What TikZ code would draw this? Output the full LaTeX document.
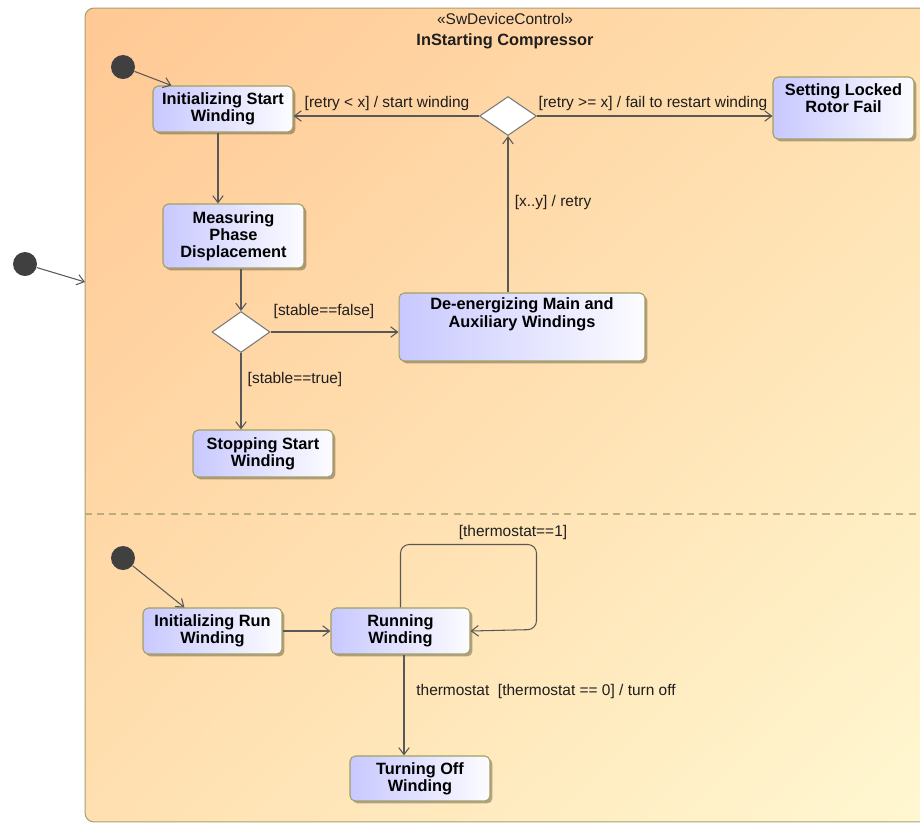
\documentclass[tikz,border=0pt]{standalone}
\usepackage{fontspec}
\setmainfont{Liberation Sans}
\usepackage{tikz}
\usetikzlibrary{arrows.meta, shapes.geometric, shadows, shadings}
\definecolor{peach}{RGB}{255, 200, 148}
\definecolor{peachlight}{RGB}{255, 224, 176}
\definecolor{cream}{RGB}{255, 248, 210}
\definecolor{compline}{RGB}{168, 160, 110}
\definecolor{dashline}{RGB}{185, 172, 125}
\definecolor{stateleft}{RGB}{200, 200, 255}
\definecolor{stateright}{RGB}{252, 252, 255}
\definecolor{stateline}{RGB}{160, 160, 100}
\definecolor{transline}{RGB}{88, 88, 88}
\definecolor{initfill}{RGB}{64, 64, 64}
\definecolor{guardtext}{RGB}{30, 30, 30}
\newcommand{\statefont}{\fontsize{9.3}{9.8}\selectfont\bfseries}
\newcommand{\guardfont}{\fontsize{8.8}{10}\selectfont}

\begin{document}
\begin{tikzpicture}[x=0.02cm, y=-0.02cm,
  state/.style={draw=stateline, line width=0.6pt, rounded corners=3pt,
    left color=stateleft, right color=stateright, align=center,
    font=\statefont, inner sep=0pt,
    drop shadow={shadow xshift=1.4pt, shadow yshift=-1.4pt, opacity=0.3, fill=black}},
  statetext/.style={font=\statefont, align=center, inner sep=0pt, anchor=north, yshift=-3pt},
  choice/.style={diamond, draw=transline!80, fill=white, inner sep=0pt, line width=0.6pt},
  initial/.style={circle, fill=initfill, inner sep=0pt, minimum size=0.48cm},
  trans/.style={draw=transline, line width=0.6pt, -{Straight Barb[length=4pt, width=6pt]}},
  guard/.style={font=\guardfont, text=guardtext, inner sep=0pt}]
  \useasboundingbox (0, 0) rectangle (920, 823);

  % composite state
  \begin{scope}
    \clip (0, 0) rectangle (920, 823);
    \node[draw=compline, line width=0.6pt, rounded corners=5pt,
          upper left=peach, upper right=peachlight, lower left=peachlight, lower right=cream,
          minimum width=17.1cm, minimum height=16.28cm, inner sep=0pt] (compressor) at (512.5, 415) {};
    \draw[dashline, line width=0.6pt, dash pattern=on 4pt off 3pt] (compressor.west |- 0,514) -- (920, 514);
  \end{scope}
  \node[guard] (stereo) at (505, 19) {«SwDeviceControl»};
  \node[guard, font=\statefont] (title) at (505, 41) {InStarting Compressor};

  % pseudo states
  \foreach \n/\x/\y in {init0/25/264, init1/123/67, init2/123/558} {
    \node[initial] (\n) at (\x, \y) {};
  }

  % region 1
  \node[state, minimum width=2.8cm, minimum height=0.92cm] (initstart) at (223, 109) {Initializing Start\\Winding};
  \node[state, minimum width=2.82cm, minimum height=1.28cm] (measuring) at (233.5, 236) {Measuring\\Phase\\Displacement};
  \node[state, minimum width=2.8cm, minimum height=0.94cm] (stopping) at (263, 453.5) {Stopping Start\\Winding};
  \node[state, minimum width=4.92cm, minimum height=1.36cm,
        label={[statetext]north:{De-energizing Main and\\Auxiliary Windings}}] (deenergize) at (522, 327) {};
  \node[state, minimum width=2.82cm, minimum height=1.24cm,
        label={[statetext, yshift=-1pt]north:{Setting Locked\\Rotor Fail}}] (lockedfail) at (843.5, 108) {};
  \node[choice, minimum width=1.14cm, minimum height=0.78cm] (retrychoice) at (508, 116) {};
  \node[choice, minimum width=1.16cm, minimum height=0.82cm] (stablechoice) at (241, 332) {};

  % region 2
  \node[state, minimum width=2.78cm, minimum height=0.92cm] (initrun) at (212.5, 631) {Initializing Run\\Winding};
  \node[state, minimum width=2.78cm, minimum height=0.92cm] (running) at (400.5, 631) {Running\\Winding};
  \node[state, minimum width=2.8cm, minimum height=0.9cm] (turnoff) at (420, 778.5) {Turning Off\\Winding};

  \coordinate (entry) at (85, 282);
  \draw[trans] (init0) -- (entry);
  \draw[trans] (init1) -- ([xshift=0.38cm]initstart.north west);
  \draw[trans] ([xshift=-0.1cm]initstart.south) -- ([xshift=-0.1cm]initstart.south |- measuring.north);
  \draw[trans] (measuring.south -| stablechoice) -- (stablechoice.north);
  \draw[trans] (stablechoice.east) -- (stablechoice.east -| deenergize.west);
  \draw[trans] (stablechoice.south) -- (stablechoice.south |- stopping.north);
  \draw[trans] (retrychoice.south |- deenergize.north) -- (retrychoice.south);
  \draw[trans] (retrychoice.west) -- (retrychoice.west -| initstart.east);
  \draw[trans] (retrychoice.east) -- (retrychoice.east -| lockedfail.west);

  \draw[trans] (init2) -- ([xshift=0.84cm]initrun.north west);
  \draw[trans] (initrun.east) -- (running.west);
  \draw[trans, rounded corners=5pt] (running.north) -- ++(0, -63) -| ++(136, 85) -- (running.east);
  \draw[trans] ([xshift=0.07cm]running.south) -- ([xshift=0.07cm]running.south |- turnoff.north);

  % guards
  \node[guard] (gstart) at (387, 103) {[retry < x] / start winding};
  \node[guard] (gfail) at (653, 103) {[retry >= x] / fail to restart winding};
  \node[guard] (gretry) at (553, 202) {[x..y] / retry};
  \node[guard] (gfalse) at (324, 311) {[stable==false]};
  \node[guard] (gtrue) at (295, 379) {[stable==true]};
  \node[guard] (gthermo) at (513, 532) {[thermostat==1]};
  \node[guard, anchor=west] (goff) at (416, 691) {thermostat\ \ [thermostat == 0] / turn off};
\end{tikzpicture}
\end{document}
